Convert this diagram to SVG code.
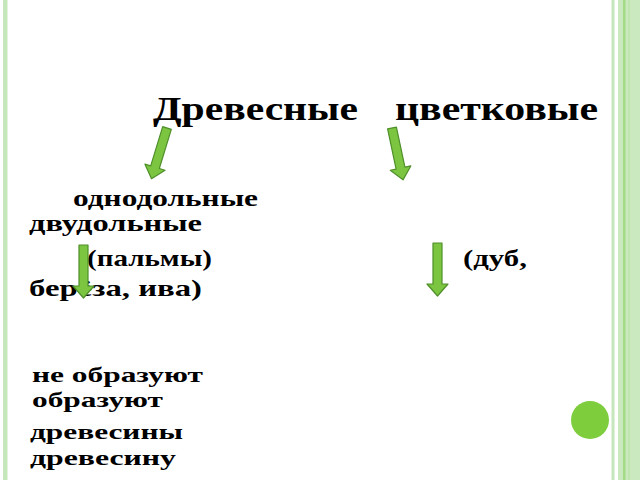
<svg xmlns="http://www.w3.org/2000/svg" width="640" height="480" viewBox="0 0 640 480">
<defs>
<style>
.arr{fill:#7cc540;stroke:#4f8f2a;stroke-width:1.2;stroke-linejoin:round}
</style>
<path id="arrow" d="M-4.5,0 H4.5 V41 H10.5 L0,53 L-10.5,41 H-4.5 Z"/>
</defs>
<rect width="640" height="480" fill="#fff"/>
<g id="frame">
<rect x="3" y="0" width="4.5" height="480" fill="#c6e7bb"/>
<rect x="611.5" y="0" width="3" height="480" fill="#c6e7bb"/>
<rect x="618" y="0" width="22" height="480" fill="#cae9bf"/>
<rect x="623" y="0" width="2.5" height="480" fill="#a3da86"/>
<rect x="628" y="0" width="2" height="480" fill="#bfe4b0"/>
<circle cx="590" cy="420" r="19" fill="#7dcd3d"/>
</g>
<g font-family="'Liberation Serif', 'DejaVu Serif', serif" font-weight="bold" fill="#000">
<g id="node-title" font-size="33">
<text x="153" y="120" textLength="205" lengthAdjust="spacingAndGlyphs">Древесные</text>
<text x="395" y="120" textLength="203" lengthAdjust="spacingAndGlyphs">цветковые</text>
</g>
<g id="node-mono" font-size="24">
<text x="73" y="206" textLength="185" lengthAdjust="spacingAndGlyphs">однодольные</text>
<text x="87" y="266" textLength="125" lengthAdjust="spacingAndGlyphs">(пальмы)</text>
</g>
<g id="node-di" font-size="24">
<text x="29" y="231" textLength="173" lengthAdjust="spacingAndGlyphs">двудольные</text>
<text x="463" y="266" textLength="64" lengthAdjust="spacingAndGlyphs">(дуб,</text>
<text x="29" y="296" textLength="173" lengthAdjust="spacingAndGlyphs">берёза, ива)</text>
</g>
<g id="node-result" font-size="22">
<text x="32" y="382" textLength="171" lengthAdjust="spacingAndGlyphs">не образуют</text>
<text x="32" y="407" textLength="131" lengthAdjust="spacingAndGlyphs">образуют</text>
<text x="30" y="439" textLength="153" lengthAdjust="spacingAndGlyphs">древесины</text>
<text x="30" y="465" textLength="146" lengthAdjust="spacingAndGlyphs">древесину</text>
</g>
</g>
<g id="connectors">
<use href="#arrow" class="arr" transform="translate(167,128) rotate(17)"/>
<use href="#arrow" class="arr" transform="translate(392,128) rotate(-12)"/>
<use href="#arrow" class="arr" transform="translate(83.5,245)"/>
<use href="#arrow" class="arr" transform="translate(437.5,243)"/>
</g>
</svg>
